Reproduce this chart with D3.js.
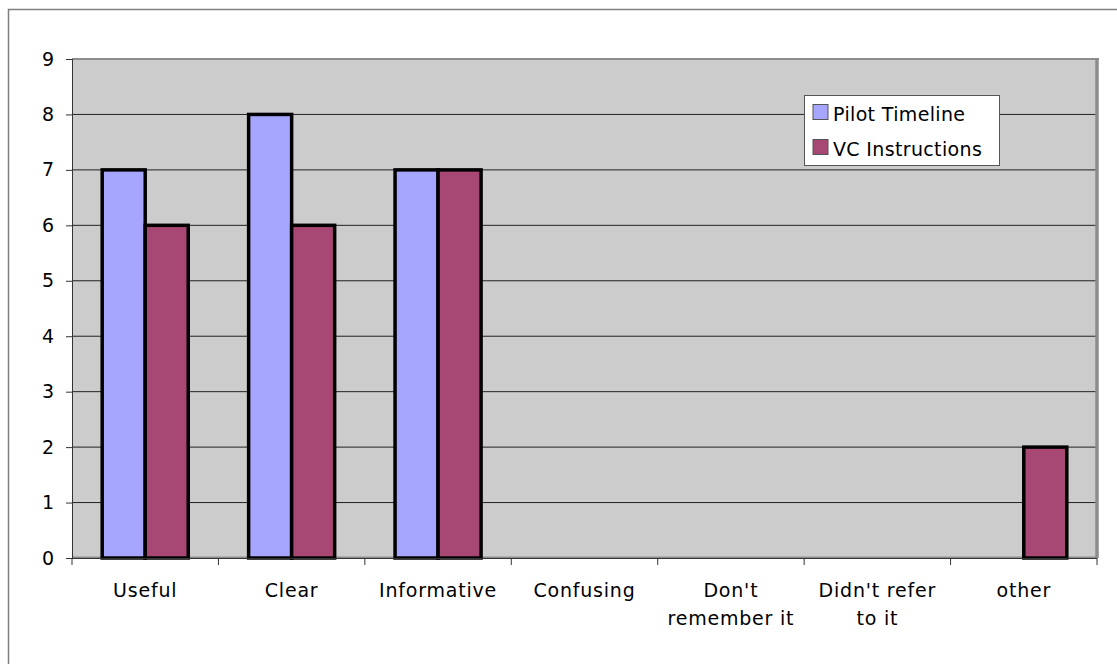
<!DOCTYPE html>
<html>
<head>
<meta charset="utf-8">
<script src="https://cdn.jsdelivr.net/npm/d3@7"></script>
<style>
  html, body { margin: 0; padding: 0; background: #fff; }
  svg { display: block; font-family: "DejaVu Sans", Verdana, sans-serif; }
</style>
</head>
<body>
<svg id="chart" width="1117" height="664"></svg>
<script>
// Survey responses: how the two documents were described
const categories = ["Useful", "Clear", "Informative", "Confusing", "Don't\nremember it", "Didn't refer\nto it", "other"];
const seriesNames = ["Pilot Timeline", "VC Instructions"];
const pilotTimeline = [7, 8, 7, 0, 0, 0, 0];
const vcInstructions = [6, 6, 7, 0, 0, 0, 2];
const yTicks = [0, 1, 2, 3, 4, 5, 6, 7, 8, 9];
const seriesColors = ["#a6a6ff", "#a64873"];

const svg = d3.select("#chart");
const W = 1117, H = 664;

// outer frame
svg.append("rect")
  .attr("x", 8.5).attr("y", 9.5)
  .attr("width", W + 10).attr("height", H + 10)
  .attr("fill", "#fff").attr("stroke", "#7f7f7f").attr("stroke-width", 1.5);

const plot = { left: 72, right: 1097, top: 59, bottom: 558 };

const x = d3.scaleBand()
  .domain(categories)
  .range([plot.left, plot.right])
  .paddingInner(0).paddingOuter(0);

const bandW = x.bandwidth();
const groupPad = 30.2 / bandW;
const x1 = d3.scaleBand()
  .domain(seriesNames)
  .range([bandW * groupPad, bandW * (1 - groupPad)]);

const y = d3.scaleLinear().domain([0, 9]).range([plot.bottom, plot.top]);

// plot background
svg.append("rect")
  .attr("x", plot.left).attr("y", plot.top)
  .attr("width", plot.right - plot.left).attr("height", plot.bottom - plot.top)
  .attr("fill", "#cccccc");

// horizontal gridlines
svg.append("g")
  .selectAll("line")
  .data(yTicks.filter(t => t > 0 && t < 9))
  .join("line")
  .attr("x1", plot.left).attr("x2", plot.right)
  .attr("y1", d => y(d)).attr("y2", d => y(d))
  .attr("stroke", "#222").attr("stroke-width", 1);

// plot frame: grey top and right edges
svg.append("line")
  .attr("x1", plot.left).attr("x2", plot.right + 2)
  .attr("y1", plot.top).attr("y2", plot.top)
  .attr("stroke", "#8c8c8c").attr("stroke-width", 2);
svg.append("line")
  .attr("x1", plot.right).attr("x2", plot.right)
  .attr("y1", plot.top).attr("y2", plot.bottom)
  .attr("stroke", "#8c8c8c").attr("stroke-width", 3.5);
svg.append("line")
  .attr("x1", plot.left).attr("x2", plot.right)
  .attr("y1", plot.bottom - 0.5).attr("y2", plot.bottom - 0.5)
  .attr("stroke", "#8c8c8c").attr("stroke-width", 2);

// bars
const data = categories.map((c, i) => ({
  cat: c,
  values: [
    { name: seriesNames[0], v: pilotTimeline[i] },
    { name: seriesNames[1], v: vcInstructions[i] }
  ]
}));

svg.append("g")
  .selectAll("g")
  .data(data)
  .join("g")
  .attr("transform", d => `translate(${x(d.cat)},0)`)
  .selectAll("rect")
  .data(d => d.values.filter(e => e.v > 0))
  .join("rect")
  .attr("x", d => x1(d.name))
  .attr("y", d => y(d.v))
  .attr("width", x1.bandwidth())
  .attr("height", d => y(0) - y(d.v))
  .attr("fill", (d) => seriesColors[seriesNames.indexOf(d.name)])
  .attr("stroke", "#000").attr("stroke-width", 3.5);

// y axis
const yAxis = d3.axisLeft(y).tickValues(yTicks).tickSize(6).tickPadding(12).tickFormat(d3.format("d"));
const yg = svg.append("g").attr("transform", `translate(${plot.left},0)`).call(yAxis);
yg.select(".domain").attr("stroke", "#333").attr("stroke-width", 1);
yg.selectAll(".tick line").attr("stroke", "#333");
yg.selectAll(".tick text").attr("font-size", 19).attr("fill", "#000")
  .attr("font-family", "DejaVu Sans, Verdana, sans-serif");

// x axis: ticks on category boundaries
const boundaries = categories.map(c => x(c)).concat([plot.right]);
svg.append("line")
  .attr("x1", plot.left).attr("x2", plot.right)
  .attr("y1", plot.bottom + 0.5).attr("y2", plot.bottom + 0.5)
  .attr("stroke", "#333");
svg.append("g")
  .selectAll("line")
  .data(boundaries)
  .join("line")
  .attr("x1", d => d).attr("x2", d => d)
  .attr("y1", plot.bottom).attr("y2", plot.bottom + 7)
  .attr("stroke", "#333");

// category labels (multi-line)
const labels = svg.append("g")
  .selectAll("text")
  .data(categories)
  .join("text")
  .attr("x", d => x(d) + bandW / 2)
  .attr("y", 597)
  .attr("text-anchor", "middle")
  .attr("font-size", 19)
  .attr("letter-spacing", 0.8)
  .attr("fill", "#000");
labels.each(function(d) {
  const t = d3.select(this);
  d.split("\n").forEach((line, i) => {
    t.append("tspan")
      .attr("x", x(d) + bandW / 2)
      .attr("dy", i === 0 ? 0 : 28)
      .text(line);
  });
});

// legend
const legend = svg.append("g").attr("transform", "translate(804.5,95.5)");
legend.append("rect")
  .attr("width", 195).attr("height", 70)
  .attr("fill", "#fff").attr("stroke", "#555").attr("stroke-width", 1);
seriesNames.forEach((name, i) => {
  const gy = 9 + i * 35;
  legend.append("rect")
    .attr("x", 8.5).attr("y", gy)
    .attr("width", 15).attr("height", 15)
    .attr("fill", seriesColors[i]).attr("stroke", "#555").attr("stroke-width", 1);
  legend.append("text")
    .attr("x", 28.5).attr("y", gy + 16)
    .attr("font-size", 19)
    .attr("letter-spacing", 0.35)
    .attr("fill", "#000")
    .text(name);
});
</script>
</body>
</html>
